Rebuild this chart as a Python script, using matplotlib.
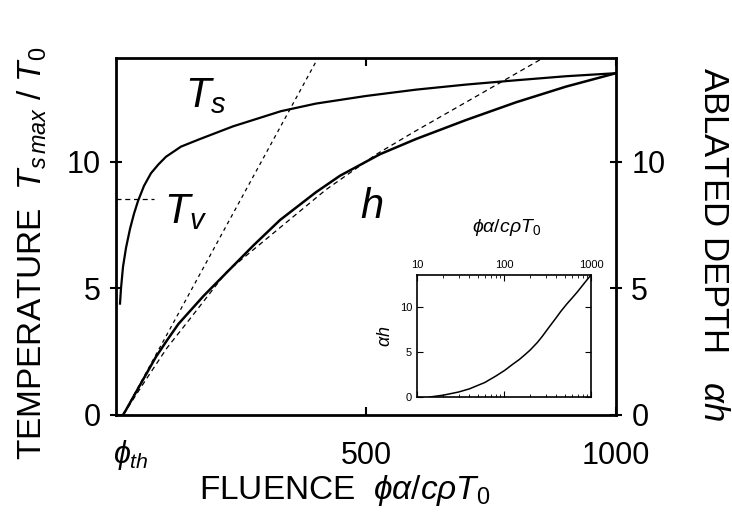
import matplotlib
matplotlib.use("Agg")
import matplotlib.pyplot as plt
import numpy as np

plt.rcParams['font.family'] = ['Liberation Sans', 'DejaVu Sans']
plt.rcParams['mathtext.fontset'] = 'custom'
plt.rcParams['mathtext.rm'] = 'Liberation Sans'
plt.rcParams['mathtext.it'] = 'Liberation Sans:italic'
plt.rcParams['mathtext.fallback'] = 'stixsans'

# surface temperature T_s max / T_0 vs fluence
fluence_ts = [8, 10, 14, 20, 28, 36, 44, 56, 70, 85, 100, 130, 168, 234, 330, 400, 500, 600, 700, 800, 900, 1000]
temp_ts = [4.4, 5.0, 5.85, 6.6, 7.35, 7.95, 8.45, 9.05, 9.55, 9.9, 10.2, 10.6, 10.9, 11.4, 12.0, 12.3, 12.6, 12.85, 13.05, 13.22, 13.38, 13.5]

# vaporisation temperature T_v
fluence_tv = [0, 75]
temp_tv = [8.54, 8.54]

# ablated depth alpha*h
fluence_h = [14, 20, 30, 40, 60, 80, 102, 125, 150, 175, 200, 240, 275, 328, 400, 448, 528, 600, 700, 800, 900, 1000]
depth_h = [0, 0.2, 0.55, 0.9, 1.6, 2.3, 2.95, 3.6, 4.15, 4.7, 5.2, 6.0, 6.7, 7.7, 8.8, 9.45, 10.3, 10.9, 11.65, 12.35, 12.97, 13.5]

# approximations (dashed)
fluence_lin = [14, 402]
depth_lin = [0, 14.03]
fluence_app = [14, 60, 102, 150, 221, 328, 420, 521, 595, 728, 848]
depth_app = [0, 1.4, 2.65, 3.85, 5.65, 7.4, 8.9, 10.3, 11.17, 12.67, 14.03]

fig = plt.figure(figsize=(7.32, 5.18), dpi=100)
ax = fig.add_axes([116/732, 1-415/518, 500/732, 357/518])

ax.plot(fluence_ts, temp_ts, color='black', lw=1.6)
ax.plot(fluence_tv, temp_tv, color='black', lw=0.9, ls=(0, (4, 3)))
ax.plot(fluence_h, depth_h, color='black', lw=1.8)
ax.plot(fluence_lin, depth_lin, color='black', lw=0.9, ls=(0, (3, 3)))
ax.plot(fluence_app, depth_app, color='black', lw=0.9, ls=(0, (4, 3)))

ax.set_xlim(0, 1000)
ax.set_ylim(0, 14.1)
ax.set_xticks([500, 1000])
ax.set_yticks([0, 5, 10])
ax.tick_params(axis='x', direction='in', top=True, length=6, width=1.5,
               labelsize=22, pad=19)
ax.tick_params(axis='y', direction='inout', right=True, labelright=True,
               length=8, width=1.5, labelsize=22, pad=7)
for s in ax.spines.values():
    s.set_linewidth(2)

ax.text(30, -0.9, r'$\phi_{th}$', fontsize=22, ha='center', va='top')
ax.text(180, 12.6, r'$T_s$', fontsize=30, ha='center', va='center')
ax.text(140, 8.0, r'$T_v$', fontsize=30, ha='center', va='center')
ax.text(512, 8.2, r'$h$', fontsize=30, ha='center', va='center')
ax.text(782, 7.4, r'$\phi\alpha/c\rho T_0$', fontsize=14, ha='center', va='center')

fig.text(345/732, 1-490/518, r'FLUENCE  $\phi\alpha/c\rho T_0$', fontsize=24,
         ha='center', va='center')
fig.text(32/732, 1-253/518, r'TEMPERATURE  $T_{s\,max}$ / $T_0$', fontsize=24,
         ha='center', va='center', rotation=90)
fig.text(714/732, 1-244/518, r'ABLATED DEPTH   $\alpha h$', fontsize=25,
         ha='center', va='center', rotation=270)

# inset: log fluence
axin = fig.add_axes([417/732, 1-397/518, 174/732, 122/518])
axin.plot(fluence_h, depth_h, color='black', lw=1.1)
axin.set_xscale('log')
axin.set_xlim(10, 1000)
axin.set_ylim(0, 13.5)
axin.set_yticks([0, 5, 10])
axin.xaxis.set_ticks_position('both')
axin.tick_params(axis='x', which='both', direction='in', labeltop=True,
                 labelbottom=False, labelsize=8)
axin.tick_params(axis='x', which='major', length=4)
axin.tick_params(axis='x', which='minor', length=2.5)
axin.tick_params(axis='y', direction='in', right=True, length=4, labelsize=8)
axin.set_xticks([10, 100, 1000])
axin.set_xticklabels(['10', '100', '1000'])
axin.set_ylabel(r'$\alpha h$', fontsize=13, labelpad=4)
for s in axin.spines.values():
    s.set_linewidth(1.2)

fig.savefig('out.png', dpi=100)
